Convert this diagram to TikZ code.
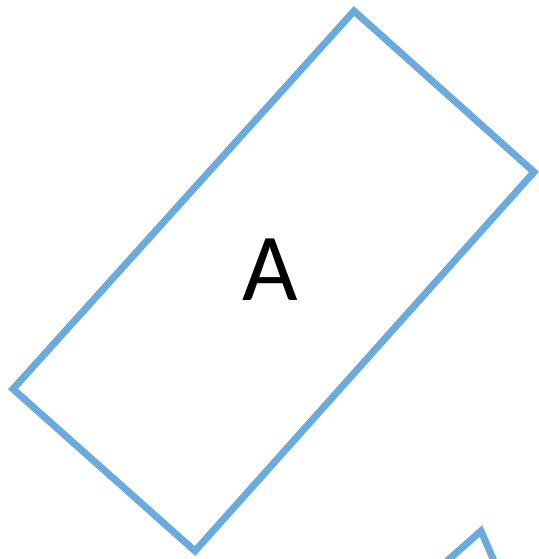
\documentclass[tikz,border=0pt]{standalone}
\usepackage{fontspec}
\setmainfont{Carlito}
\definecolor{boxblue}{RGB}{106,170,221}

\begin{document}
\begin{tikzpicture}[x=1pt, y=-1pt, line join=miter]
  \tikzset{
    outline/.style={draw=boxblue, line width=7pt},
    label/.style={font=\fontsize{96}{100}\selectfont, text=black}
  }
  \useasboundingbox (0,0) rectangle (538,559);

  %--- Corners of the tilted box
  \coordinate (top) at (354,11);
  \coordinate (right) at (534,172);
  \coordinate (bottom) at (195,551);
  \coordinate (left) at (13,389);

  \draw[outline] (top) -- (right) -- (bottom) -- (left) -- cycle;
  \node[label] (lblA) at (270,270) {A};

  %--- Partial shape cut off at the lower edge
  \begin{scope}
    \clip (0,0) rectangle (538,559);
    \coordinate (tip) at (481,531);
    \draw[outline] (447,561) -- (tip) -- (494,561);
  \end{scope}
\end{tikzpicture}
\end{document}
